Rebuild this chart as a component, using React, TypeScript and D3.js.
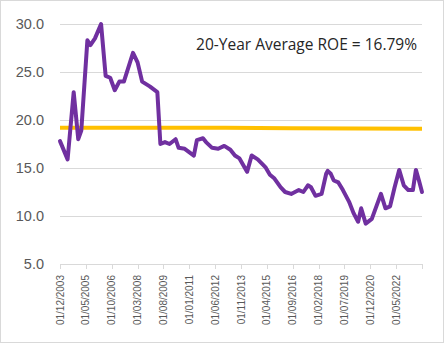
import React from "react";
import * as d3 from "d3";

const roeDates = [
  "2003-12","2004-05","2004-09","2004-12","2005-02","2005-06","2005-08","2005-11","2006-03","2006-06",
  "2006-09","2006-12","2007-03","2007-06","2007-12","2008-03","2008-06","2008-11","2009-04","2009-06",
  "2009-09","2009-12","2010-04","2010-06","2010-10","2011-04","2011-06","2011-10","2011-12","2012-04",
  "2012-08","2012-12","2013-04","2013-07","2013-10","2014-03","2014-06","2014-10","2015-03","2015-06",
  "2015-09","2016-01","2016-04","2016-08","2017-01","2017-04","2017-07","2017-09","2017-12","2018-04",
  "2018-07","2018-08","2018-10","2018-12","2019-03","2019-06","2019-10","2020-01","2020-04","2020-06",
  "2020-09","2021-01","2021-04","2021-07","2021-10","2022-01","2022-04","2022-07","2022-10","2023-01",
  "2023-04","2023-06","2023-08","2023-10",
];
const roeValues = [
  17.8, 15.9, 22.9, 18.0, 18.9, 28.3, 27.8, 28.5, 30.0, 24.6,
  24.4, 23.1, 24.0, 24.0, 27.0, 26.0, 24.0, 23.5, 22.9, 17.5,
  17.7, 17.5, 18.0, 17.1, 17.0, 16.3, 17.9, 18.1, 17.7, 17.1,
  17.0, 17.3, 16.9, 16.3, 16.0, 14.6, 16.3, 15.9, 15.1, 14.3,
  13.9, 13.0, 12.5, 12.3, 12.7, 12.5, 13.2, 13.0, 12.1, 12.3,
  14.4, 14.7, 14.4, 13.7, 13.5, 12.7, 11.5, 10.3, 9.4, 10.8,
  9.2, 9.7, 11.0, 12.3, 10.8, 11.0, 13.0, 14.8, 13.2, 12.7,
  12.7, 14.8, 13.7, 12.5,
];

const avgDates = ["2003-12", "2013-01", "2016-08", "2023-10"];
const avgValues = [19.2, 19.18, 19.13, 19.1];

const tickLabels = [
  "01/12/2003","01/05/2005","01/10/2006","01/03/2008","01/08/2009","01/01/2011","01/06/2012",
  "01/11/2013","01/04/2015","01/09/2016","01/02/2018","01/07/2019","01/12/2020","01/05/2022",
];
const yTicks = [5, 10, 15, 20, 25, 30];
const annotation = "20-Year Average ROE = 16.79%";

const START_Y = 2003, START_M = 12;
const monthIndex = (s: string) => {
  const [y, m] = s.split("-").map(Number);
  return (y - START_Y) * 12 + (m - START_M);
};
const labelIndex = (s: string) => {
  const [, m, y] = s.split("/").map(Number);
  return (y - START_Y) * 12 + (m - START_M);
};

export default function App() {
  const W = 446, H = 344;
  const x0 = 60, x1 = 422, yTop = 24, yBot = 264;
  const x = d3.scaleLinear().domain([0, monthIndex("2023-10")]).range([x0, x1]);
  const y = d3.scaleLinear().domain([5, 30]).range([yBot, yTop]);

  const roe = roeDates.map((d, i) => [monthIndex(d), roeValues[i]] as [number, number]);
  const avg = avgDates.map((d, i) => [monthIndex(d), avgValues[i]] as [number, number]);
  const line = d3.line<[number, number]>().x((d) => x(d[0])).y((d) => y(d[1]));

  const tickPositions = [...tickLabels.map(labelIndex), monthIndex("2023-10")];

  return (
    <svg width={W} height={H} style={{ position: "absolute", left: 0, top: 0 }}>
      <rect x={0} y={0} width={W} height={H} fill="#fff" />
      <rect x={0.5} y={0.5} width={443} height={342} fill="none" stroke="#d9d9d9" />
      {yTicks.map((t) => (
        <g key={t}>
          <line x1={x0} x2={x1} y1={Math.round(y(t)) + 0.5} y2={Math.round(y(t)) + 0.5} stroke="#d9d9d9" strokeWidth={1} />
          <text x={44} y={y(t)} dy="0.36em" textAnchor="end" fontFamily="'Liberation Sans', Arial, sans-serif" fontSize={14.5} fill="#595959">
            {t.toFixed(1)}
          </text>
        </g>
      ))}
      {tickPositions.map((m, i) => (
        <line key={"t" + i} x1={Math.round(x(m)) + 0.5} x2={Math.round(x(m)) + 0.5} y1={yBot} y2={yBot + 5} stroke="#d9d9d9" />
      ))}
      {tickLabels.map((l) => {
        const px = x(labelIndex(l));
        return (
          <text key={l} transform={`translate(${px + 3.5},${yBot + 11}) rotate(-90)`} textAnchor="end"
            fontFamily="'Liberation Sans', Arial, sans-serif" fontSize={10} fill="#595959">
            {l}
          </text>
        );
      })}
      <path d={line(avg) || ""} fill="none" stroke="#FFC000" strokeWidth={4} />
      <path d={line(roe) || ""} fill="none" stroke="#7030A0" strokeWidth={4} strokeLinejoin="round" strokeLinecap="round" />
      <text x={417} y={50} textAnchor="end" fontFamily="'Open Sans', sans-serif" fontSize={15.5} fill="#262626">
        {annotation}
      </text>
    </svg>
  );
}
